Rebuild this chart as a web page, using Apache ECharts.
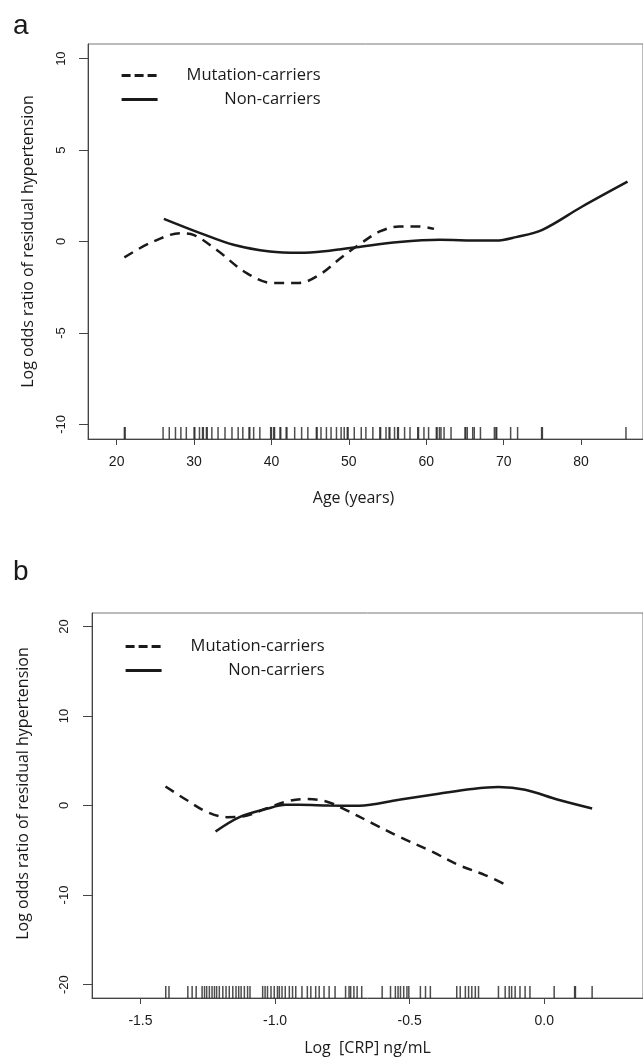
<!DOCTYPE html>
<html>
<head>
<meta charset="utf-8">
<script src="https://cdn.jsdelivr.net/npm/echarts@6/dist/echarts.min.js"></script>
<style>
  html, body { margin: 0; padding: 0; background: #fff; }
  #chart { width: 643px; height: 1057px; }
</style>
</head>
<body>
<div id="chart"></div>
<script>
// panel a - age
const ageMutX = [21, 24.3, 28.3, 30, 32.9, 36.8, 40.2, 43.5, 46.2, 49.2, 51.6, 54, 56.5, 59.1, 61];
const ageMutY = [-0.87, -0.09, 0.45, 0.35, -0.45, -1.73, -2.27, -2.27, -1.82, -0.82, -0.09, 0.55, 0.82, 0.82, 0.69];
const ageNonX = [26.1, 30.8, 35.1, 39.8, 43.7, 47.5, 51, 56.5, 61.7, 66, 69, 71.6, 75, 80.1, 86];
const ageNonY = [1.24, 0.46, -0.18, -0.55, -0.62, -0.5, -0.31, -0.03, 0.09, 0.06, 0.05, 0.24, 0.64, 1.9, 3.27];
const ageRug = [21.0, 21.1, 26.0, 26.8, 27.6, 28.3, 29.0, 30.0, 30.1, 30.7, 31.1, 31.2, 31.6, 31.7, 32.3, 33.1,
  34.0, 34.9, 35.7, 36.3, 37.1, 37.2, 37.7, 38.5, 39.9, 40.0, 40.3, 40.4, 41.1, 41.2, 41.9, 42.0, 43.0, 43.9,
  44.7, 45.8, 45.9, 46.4, 47.1, 47.7, 48.4, 49.0, 49.4, 49.8, 49.9, 50.7, 51.6, 52.2, 53.1, 54.0, 54.1, 54.8,
  55.2, 55.3, 55.9, 56.3, 56.4, 57.2, 57.9, 58.9, 59.0, 59.7, 60.3, 61.3, 61.4, 61.7, 61.9, 62.3, 63.2, 65.0,
  65.1, 65.3, 66.0, 66.2, 67.0, 68.8, 69.0, 69.1, 70.9, 71.8, 74.9, 75.0, 85.8];
const ageTicks = [20, 30, 40, 50, 60, 70, 80];
const ageYTicks = [-10, -5, 0, 5, 10];

// panel b - log CRP
const crpMutX = [-1.407, -1.33, -1.256, -1.18, -1.12, -1.03, -0.95, -0.89, -0.81, -0.738, -0.64, -0.54, -0.417, -0.318, -0.22, -0.14];
const crpMutY = [2.13, 0.64, -0.67, -1.3, -1.23, -0.3, 0.5, 0.72, 0.45, -0.48, -1.97, -3.47, -5.15, -6.65, -7.77, -8.9];
const crpNonX = [-1.221, -1.132, -1.034, -0.96, -0.91, -0.8, -0.688, -0.54, -0.392, -0.269, -0.17, -0.071, 0.052, 0.178];
const crpNonY = [-2.91, -1.3, -0.4, 0.08, 0.08, 0.0, -0.03, 0.64, 1.31, 1.84, 2.06, 1.76, 0.64, -0.33];
const crpRug = [-1.406, -1.394, -1.324, -1.308, -1.293, -1.271, -1.262, -1.254, -1.244, -1.234, -1.225, -1.217,
  -1.207, -1.194, -1.182, -1.17, -1.157, -1.145, -1.135, -1.126, -1.114, -1.102, -1.093, -1.046, -1.037, -1.028,
  -1.015, -1.003, -0.991, -0.984, -0.974, -0.962, -0.947, -0.935, -0.923, -0.9, -0.88, -0.867, -0.849, -0.836,
  -0.818, -0.799, -0.777, -0.738, -0.725, -0.719, -0.707, -0.695, -0.678, -0.602, -0.571, -0.553, -0.543,
  -0.534, -0.522, -0.51, -0.503, -0.46, -0.441, -0.423, -0.325, -0.312, -0.293, -0.281, -0.269, -0.256,
  -0.244, -0.17, -0.145, -0.13, -0.121, -0.108, -0.09, -0.071, -0.053, 0.037, 0.113, 0.116, 0.178];
const crpTicks = [-1.5, -1.0, -0.5, 0.0];
const crpYTicks = [-20, -10, 0, 10, 20];

const tickFont = '"Liberation Sans", Arial, sans-serif';
const textFont = '"Open Sans", sans-serif';
const ink = '#1a1a1a';

const zip = (xs, ys) => xs.map((x, i) => [x, ys[i]]);

const chart = echarts.init(document.getElementById('chart'));

const xAxisBase = (grid, min, max, ticks, name, gap, fmt, pad) => ({
  gridIndex: grid, type: 'value', min: min, max: max,
  name: name, nameLocation: 'middle', nameGap: gap,
  nameTextStyle: { fontFamily: textFont, fontSize: 16, color: ink, padding: pad },
  axisLine: { show: true, onZero: false, lineStyle: { color: '#444', width: 1 } },
  axisTick: { show: true, length: 6, customValues: ticks, lineStyle: { color: '#444' } },
  axisLabel: { customValues: ticks, margin: 16, fontFamily: tickFont, fontSize: 14, color: ink, formatter: fmt },
  splitLine: { show: false }
});

const yAxisBase = (grid, min, max, ticks, gap, margin, pad) => ({
  gridIndex: grid, type: 'value', min: min, max: max,
  name: 'Log odds ratio of residual hypertension', nameLocation: 'middle', nameGap: gap, nameRotate: 90,
  nameTextStyle: { fontFamily: textFont, fontSize: 16, color: ink, padding: pad },
  axisLine: { show: true, onZero: false, lineStyle: { color: '#444', width: 1 } },
  axisTick: { show: true, length: 9, customValues: ticks, lineStyle: { color: '#444' } },
  axisLabel: { customValues: ticks, rotate: 90, margin: margin, fontFamily: tickFont, fontSize: 13, color: ink },
  splitLine: { show: false }
});

const lineSeries = (name, xi, data, dashed) => ({
  type: 'line', name: name, xAxisIndex: xi, yAxisIndex: xi, data: data,
  smooth: 0.35, symbol: 'none', showSymbol: false, silent: true,
  itemStyle: { color: ink },
  lineStyle: { color: ink, width: 2.5, type: dashed ? [10, 7] : 'solid' }
});

const rugSeries = (xi, vals, yMin) => ({
  type: 'scatter', xAxisIndex: xi, yAxisIndex: xi, silent: true,
  symbol: 'rect', symbolSize: [1.5, 12], symbolOffset: [0, -6],
  data: vals.map(v => [v, yMin]),
  itemStyle: { color: '#222' }
});

const legendBase = (left, top) => ({
  orient: 'vertical', left: left, top: top, itemWidth: 36, itemHeight: 14, itemGap: 7,
  selectedMode: false, padding: 0,
  itemStyle: { opacity: 0 },
  data: [
    { name: 'Mutation-carriers', lineStyle: { type: [9, 4], width: 2.8 } },
    { name: 'Non-carriers', lineStyle: { width: 3.2 } }
  ],
  formatter: n => '{t|' + n + '}',
  textStyle: { rich: { t: { width: 158, lineHeight: 16, align: 'right', fontFamily: textFont, fontSize: 16.5, color: ink } } }
});

chart.setOption({
  animation: false,
  backgroundColor: '#fff',
  title: [
    { text: 'a', left: 13, top: 12, padding: 0, textStyle: { fontFamily: tickFont, fontSize: 28, fontWeight: 'normal', color: ink } },
    { text: 'b', left: 13, top: 558, padding: 0, textStyle: { fontFamily: tickFont, fontSize: 28, fontWeight: 'normal', color: ink } }
  ],
  grid: [
    { left: 88, top: 44, width: 557, height: 395, show: true, borderColor: '#777', borderWidth: 1 },
    { left: 92, top: 613, width: 553, height: 385, show: true, borderColor: '#777', borderWidth: 1 }
  ],
  legend: [legendBase(120, 67), legendBase(124, 638)],
  xAxis: [
    xAxisBase(0, 16.3, 88.0, ageTicks, 'Age (years)', 51, v => String(v), [0, 24, 0, 0]),
    xAxisBase(1, -1.68, 0.367, crpTicks, 'Log  [CRP] ng/mL', 42, v => v.toFixed(1), 0)
  ],
  yAxis: [
    yAxisBase(0, -10.8, 10.8, ageYTicks, 52, 20, 0),
    yAxisBase(1, -21.5, 21.5, crpYTicks, 61, 21, [0, 0, 0, 24])
  ],
  series: [
    rugSeries(0, ageRug, -10.8),
    lineSeries('Mutation-carriers', 0, zip(ageMutX, ageMutY), true),
    lineSeries('Non-carriers', 0, zip(ageNonX, ageNonY), false),
    rugSeries(1, crpRug, -21.5),
    lineSeries('Mutation-carriers', 1, zip(crpMutX, crpMutY), true),
    lineSeries('Non-carriers', 1, zip(crpNonX, crpNonY), false)
  ]
});
</script>
</body>
</html>
